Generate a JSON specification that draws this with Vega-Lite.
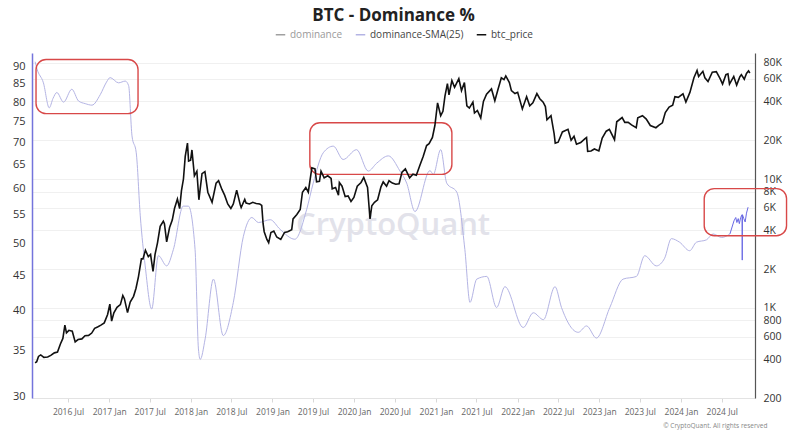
{
  "$schema": "https://vega.github.io/schema/vega-lite/v6.json",
  "width": 723,
  "height": 345,
  "autosize": "none",
  "padding": {"left": 32, "top": 53, "right": 45, "bottom": 39},
  "background": "white",
  "title": {"text": "BTC - Dominance %", "fontSize": 17, "fontWeight": "bold", "font": "Open Sans", "color": "#222", "anchor": "middle", "frame": "group", "offset": 4},
  "datasets": {
    "wm": [{"date": "2020-06-23", "val": 52.9, "label": "CryptoQuant"}],
    "boxes": [
      {"x1": "2016-02-09", "x2": "2017-05-10", "y1": 92.2, "y2": 77.0},
      {"x1": "2019-06-17", "x2": "2021-03-13", "y1": 74.7, "y2": 62.9},
      {"x1": "2024-04-14", "x2": "2025-04-17", "y1": 60.0, "y2": 51.3}
    ],
    "sma": [
      {"date": "2016-02-05", "sma": 91.5}, {"date": "2016-02-13", "sma": 89.4}, {"date": "2016-03-13", "sma": 85.3},
      {"date": "2016-04-08", "sma": 78.5}, {"date": "2016-04-25", "sma": 81.0}, {"date": "2016-05-12", "sma": 82.6},
      {"date": "2016-06-11", "sma": 80.0}, {"date": "2016-07-18", "sma": 83.5}, {"date": "2016-08-17", "sma": 80.3},
      {"date": "2016-09-16", "sma": 79.6}, {"date": "2016-10-16", "sma": 79.2}, {"date": "2016-11-22", "sma": 82.0},
      {"date": "2016-12-20", "sma": 85.5}, {"date": "2017-01-05", "sma": 86.8}, {"date": "2017-02-12", "sma": 85.3},
      {"date": "2017-03-14", "sma": 85.8}, {"date": "2017-03-29", "sma": 84.5}, {"date": "2017-04-13", "sma": 71.5},
      {"date": "2017-05-02", "sma": 67.6}, {"date": "2017-05-20", "sma": 54.8}, {"date": "2017-06-11", "sma": 46.4},
      {"date": "2017-07-10", "sma": 40.2}, {"date": "2017-08-09", "sma": 48.0}, {"date": "2017-09-15", "sma": 46.4},
      {"date": "2017-10-15", "sma": 49.0}, {"date": "2017-11-28", "sma": 56.6}, {"date": "2017-12-21", "sma": 56.6},
      {"date": "2018-01-20", "sma": 49.0}, {"date": "2018-02-04", "sma": 35.2}, {"date": "2018-02-12", "sma": 34.0},
      {"date": "2018-03-06", "sma": 36.4}, {"date": "2018-04-12", "sma": 44.4}, {"date": "2018-05-26", "sma": 36.8},
      {"date": "2018-07-10", "sma": 41.1}, {"date": "2018-08-24", "sma": 51.2}, {"date": "2018-10-01", "sma": 54.5},
      {"date": "2018-10-30", "sma": 53.6}, {"date": "2018-12-22", "sma": 54.1}, {"date": "2019-02-04", "sma": 52.4},
      {"date": "2019-04-11", "sma": 50.7}, {"date": "2019-06-03", "sma": 56.0}, {"date": "2019-07-02", "sma": 61.1},
      {"date": "2019-08-16", "sma": 67.6}, {"date": "2019-09-30", "sma": 69.1}, {"date": "2019-11-13", "sma": 66.1},
      {"date": "2020-01-12", "sma": 68.3}, {"date": "2020-03-04", "sma": 63.6}, {"date": "2020-04-11", "sma": 65.3},
      {"date": "2020-06-02", "sma": 66.9}, {"date": "2020-07-24", "sma": 63.6}, {"date": "2020-08-23", "sma": 61.1},
      {"date": "2020-09-29", "sma": 55.6}, {"date": "2020-12-05", "sma": 63.7}, {"date": "2020-12-20", "sma": 62.9},
      {"date": "2021-01-22", "sma": 68.3}, {"date": "2021-02-18", "sma": 61.1}, {"date": "2021-04-04", "sma": 59.3},
      {"date": "2021-05-10", "sma": 49.0}, {"date": "2021-06-02", "sma": 41.1}, {"date": "2021-07-02", "sma": 44.4},
      {"date": "2021-08-16", "sma": 44.8}, {"date": "2021-09-29", "sma": 40.4}, {"date": "2021-11-05", "sma": 43.3},
      {"date": "2022-01-26", "sma": 37.8}, {"date": "2022-03-12", "sma": 39.7}, {"date": "2022-04-26", "sma": 38.8},
      {"date": "2022-06-17", "sma": 43.3}, {"date": "2022-07-16", "sma": 40.4}, {"date": "2022-09-29", "sma": 37.2},
      {"date": "2022-11-05", "sma": 38.0}, {"date": "2022-12-19", "sma": 36.5}, {"date": "2023-02-17", "sma": 40.4},
      {"date": "2023-04-17", "sma": 44.4}, {"date": "2023-06-16", "sma": 44.8}, {"date": "2023-07-23", "sma": 48.0},
      {"date": "2023-09-13", "sma": 46.4}, {"date": "2023-10-20", "sma": 47.6}, {"date": "2023-11-19", "sma": 50.8},
      {"date": "2023-12-26", "sma": 50.2}, {"date": "2024-02-09", "sma": 48.8}, {"date": "2024-03-10", "sma": 50.2},
      {"date": "2024-04-24", "sma": 50.6}, {"date": "2024-05-24", "sma": 51.6}, {"date": "2024-07-01", "sma": 51.0},
      {"date": "2024-08-07", "sma": 51.6}
    ],
    "recent": [
      {"date": "2024-08-07", "sma": 51.6}, {"date": "2024-08-25", "sma": 53.9}, {"date": "2024-09-02", "sma": 54.5},
      {"date": "2024-09-07", "sma": 53.6}, {"date": "2024-09-13", "sma": 54.3}, {"date": "2024-09-18", "sma": 53.4},
      {"date": "2024-09-24", "sma": 54.5}, {"date": "2024-09-30", "sma": 55.0}, {"date": "2024-10-01", "sma": 47.3},
      {"date": "2024-10-02", "sma": 55.0}, {"date": "2024-10-08", "sma": 54.3}, {"date": "2024-10-14", "sma": 53.7},
      {"date": "2024-10-20", "sma": 55.3}, {"date": "2024-10-27", "sma": 56.4}
    ],
    "price": [
      {"date": "2016-02-05", "btc_price": 375}, {"date": "2016-02-12", "btc_price": 382}, {"date": "2016-02-20", "btc_price": 420},
      {"date": "2016-03-01", "btc_price": 432}, {"date": "2016-03-15", "btc_price": 413}, {"date": "2016-04-01", "btc_price": 416},
      {"date": "2016-04-15", "btc_price": 428}, {"date": "2016-05-01", "btc_price": 448}, {"date": "2016-05-15", "btc_price": 455},
      {"date": "2016-05-28", "btc_price": 525}, {"date": "2016-06-08", "btc_price": 580}, {"date": "2016-06-17", "btc_price": 735},
      {"date": "2016-06-24", "btc_price": 640}, {"date": "2016-07-05", "btc_price": 670}, {"date": "2016-07-20", "btc_price": 660},
      {"date": "2016-08-02", "btc_price": 545}, {"date": "2016-08-15", "btc_price": 568}, {"date": "2016-09-01", "btc_price": 575},
      {"date": "2016-09-15", "btc_price": 608}, {"date": "2016-10-01", "btc_price": 612}, {"date": "2016-10-15", "btc_price": 638},
      {"date": "2016-10-28", "btc_price": 695}, {"date": "2016-11-10", "btc_price": 712}, {"date": "2016-11-25", "btc_price": 735},
      {"date": "2016-12-10", "btc_price": 765}, {"date": "2016-12-25", "btc_price": 890}, {"date": "2017-01-04", "btc_price": 1070},
      {"date": "2017-01-12", "btc_price": 790}, {"date": "2017-01-22", "btc_price": 915}, {"date": "2017-02-05", "btc_price": 1010},
      {"date": "2017-02-20", "btc_price": 1060}, {"date": "2017-03-03", "btc_price": 1250}, {"date": "2017-03-10", "btc_price": 1180},
      {"date": "2017-03-24", "btc_price": 920}, {"date": "2017-04-05", "btc_price": 1110}, {"date": "2017-04-20", "btc_price": 1230},
      {"date": "2017-05-01", "btc_price": 1420}, {"date": "2017-05-12", "btc_price": 1750}, {"date": "2017-05-25", "btc_price": 2400},
      {"date": "2017-06-01", "btc_price": 2400}, {"date": "2017-06-12", "btc_price": 2800}, {"date": "2017-06-25", "btc_price": 2500},
      {"date": "2017-07-05", "btc_price": 2600}, {"date": "2017-07-16", "btc_price": 1920}, {"date": "2017-07-25", "btc_price": 2600},
      {"date": "2017-08-05", "btc_price": 3200}, {"date": "2017-08-17", "btc_price": 4300}, {"date": "2017-08-31", "btc_price": 4700},
      {"date": "2017-09-05", "btc_price": 4500}, {"date": "2017-09-15", "btc_price": 3250}, {"date": "2017-09-28", "btc_price": 4200},
      {"date": "2017-10-10", "btc_price": 4800}, {"date": "2017-10-20", "btc_price": 5900}, {"date": "2017-11-02", "btc_price": 7000},
      {"date": "2017-11-12", "btc_price": 5900}, {"date": "2017-11-20", "btc_price": 8100}, {"date": "2017-11-29", "btc_price": 10000},
      {"date": "2017-12-07", "btc_price": 15000}, {"date": "2017-12-17", "btc_price": 19000}, {"date": "2017-12-22", "btc_price": 13800},
      {"date": "2017-12-31", "btc_price": 14000}, {"date": "2018-01-06", "btc_price": 16800}, {"date": "2018-01-17", "btc_price": 10600},
      {"date": "2018-01-28", "btc_price": 11500}, {"date": "2018-02-06", "btc_price": 6900}, {"date": "2018-02-20", "btc_price": 11000},
      {"date": "2018-03-05", "btc_price": 11400}, {"date": "2018-03-18", "btc_price": 7900}, {"date": "2018-04-06", "btc_price": 6600},
      {"date": "2018-04-24", "btc_price": 9300}, {"date": "2018-05-05", "btc_price": 9700}, {"date": "2018-05-20", "btc_price": 8300},
      {"date": "2018-06-01", "btc_price": 7500}, {"date": "2018-06-15", "btc_price": 6400}, {"date": "2018-06-29", "btc_price": 5900},
      {"date": "2018-07-10", "btc_price": 6400}, {"date": "2018-07-25", "btc_price": 8200}, {"date": "2018-08-10", "btc_price": 6300},
      {"date": "2018-08-14", "btc_price": 6000}, {"date": "2018-08-30", "btc_price": 6950}, {"date": "2018-09-05", "btc_price": 6500},
      {"date": "2018-09-20", "btc_price": 6400}, {"date": "2018-10-05", "btc_price": 6600}, {"date": "2018-10-20", "btc_price": 6450},
      {"date": "2018-11-05", "btc_price": 6400}, {"date": "2018-11-14", "btc_price": 6250}, {"date": "2018-11-20", "btc_price": 4500},
      {"date": "2018-11-25", "btc_price": 3900}, {"date": "2018-12-07", "btc_price": 3400}, {"date": "2018-12-15", "btc_price": 3200},
      {"date": "2018-12-25", "btc_price": 3850}, {"date": "2019-01-07", "btc_price": 3950}, {"date": "2019-01-20", "btc_price": 3550},
      {"date": "2019-02-07", "btc_price": 3400}, {"date": "2019-02-24", "btc_price": 3850}, {"date": "2019-03-10", "btc_price": 3900},
      {"date": "2019-03-28", "btc_price": 4050}, {"date": "2019-04-03", "btc_price": 4900}, {"date": "2019-04-20", "btc_price": 5300},
      {"date": "2019-05-05", "btc_price": 5800}, {"date": "2019-05-15", "btc_price": 7900}, {"date": "2019-05-30", "btc_price": 8600},
      {"date": "2019-06-10", "btc_price": 7900}, {"date": "2019-06-26", "btc_price": 12200}, {"date": "2019-07-10", "btc_price": 12000},
      {"date": "2019-07-17", "btc_price": 9500}, {"date": "2019-07-30", "btc_price": 9600}, {"date": "2019-08-06", "btc_price": 11500},
      {"date": "2019-08-20", "btc_price": 10200}, {"date": "2019-09-05", "btc_price": 10600}, {"date": "2019-09-20", "btc_price": 10100},
      {"date": "2019-09-25", "btc_price": 8400}, {"date": "2019-10-10", "btc_price": 8600}, {"date": "2019-10-23", "btc_price": 7500},
      {"date": "2019-10-27", "btc_price": 9400}, {"date": "2019-11-08", "btc_price": 8800}, {"date": "2019-11-22", "btc_price": 7300},
      {"date": "2019-12-05", "btc_price": 7400}, {"date": "2019-12-18", "btc_price": 6700}, {"date": "2019-12-31", "btc_price": 7200},
      {"date": "2020-01-15", "btc_price": 8800}, {"date": "2020-02-01", "btc_price": 9400}, {"date": "2020-02-13", "btc_price": 10300},
      {"date": "2020-03-01", "btc_price": 8600}, {"date": "2020-03-12", "btc_price": 4900}, {"date": "2020-03-20", "btc_price": 6200},
      {"date": "2020-04-01", "btc_price": 6600}, {"date": "2020-04-15", "btc_price": 6900}, {"date": "2020-04-30", "btc_price": 8700},
      {"date": "2020-05-10", "btc_price": 9500}, {"date": "2020-05-25", "btc_price": 8800}, {"date": "2020-06-05", "btc_price": 9700},
      {"date": "2020-06-20", "btc_price": 9300}, {"date": "2020-07-05", "btc_price": 9100}, {"date": "2020-07-20", "btc_price": 9200},
      {"date": "2020-08-02", "btc_price": 11300}, {"date": "2020-08-17", "btc_price": 12000}, {"date": "2020-09-05", "btc_price": 10200},
      {"date": "2020-09-20", "btc_price": 10900}, {"date": "2020-10-05", "btc_price": 10700}, {"date": "2020-10-21", "btc_price": 12800},
      {"date": "2020-11-05", "btc_price": 15000}, {"date": "2020-11-20", "btc_price": 18200}, {"date": "2020-12-01", "btc_price": 18800},
      {"date": "2020-12-16", "btc_price": 21000}, {"date": "2020-12-27", "btc_price": 26000}, {"date": "2021-01-08", "btc_price": 39000},
      {"date": "2021-01-22", "btc_price": 31000}, {"date": "2021-02-01", "btc_price": 33500}, {"date": "2021-02-10", "btc_price": 44000},
      {"date": "2021-02-21", "btc_price": 55000}, {"date": "2021-02-28", "btc_price": 45000}, {"date": "2021-03-13", "btc_price": 58000},
      {"date": "2021-03-25", "btc_price": 51500}, {"date": "2021-04-13", "btc_price": 60000}, {"date": "2021-04-25", "btc_price": 48500},
      {"date": "2021-05-08", "btc_price": 56000}, {"date": "2021-05-19", "btc_price": 37000}, {"date": "2021-05-30", "btc_price": 35500},
      {"date": "2021-06-15", "btc_price": 39500}, {"date": "2021-06-22", "btc_price": 32500}, {"date": "2021-07-05", "btc_price": 34000},
      {"date": "2021-07-20", "btc_price": 29800}, {"date": "2021-08-01", "btc_price": 40000}, {"date": "2021-08-15", "btc_price": 45500},
      {"date": "2021-09-06", "btc_price": 50000}, {"date": "2021-09-21", "btc_price": 40500}, {"date": "2021-10-05", "btc_price": 49500},
      {"date": "2021-10-20", "btc_price": 61000}, {"date": "2021-11-01", "btc_price": 59000}, {"date": "2021-11-09", "btc_price": 63000},
      {"date": "2021-11-25", "btc_price": 56000}, {"date": "2021-12-04", "btc_price": 48500}, {"date": "2021-12-20", "btc_price": 46000},
      {"date": "2022-01-01", "btc_price": 47000}, {"date": "2022-01-22", "btc_price": 35000}, {"date": "2022-02-10", "btc_price": 43500},
      {"date": "2022-02-24", "btc_price": 37000}, {"date": "2022-03-10", "btc_price": 39000}, {"date": "2022-03-28", "btc_price": 46000},
      {"date": "2022-04-10", "btc_price": 42000}, {"date": "2022-04-25", "btc_price": 39500}, {"date": "2022-05-05", "btc_price": 36500},
      {"date": "2022-05-12", "btc_price": 28800}, {"date": "2022-05-30", "btc_price": 31000}, {"date": "2022-06-13", "btc_price": 22500},
      {"date": "2022-06-18", "btc_price": 19000}, {"date": "2022-07-01", "btc_price": 19300}, {"date": "2022-07-20", "btc_price": 23200},
      {"date": "2022-08-14", "btc_price": 24300}, {"date": "2022-08-28", "btc_price": 20000}, {"date": "2022-09-10", "btc_price": 21500},
      {"date": "2022-09-21", "btc_price": 18600}, {"date": "2022-10-10", "btc_price": 19200}, {"date": "2022-10-28", "btc_price": 20500},
      {"date": "2022-11-05", "btc_price": 21000}, {"date": "2022-11-10", "btc_price": 16400}, {"date": "2022-11-25", "btc_price": 16500},
      {"date": "2022-12-10", "btc_price": 17100}, {"date": "2022-12-30", "btc_price": 16500}, {"date": "2023-01-14", "btc_price": 20800},
      {"date": "2023-02-01", "btc_price": 23500}, {"date": "2023-02-15", "btc_price": 24300}, {"date": "2023-03-10", "btc_price": 20200},
      {"date": "2023-03-20", "btc_price": 27800}, {"date": "2023-04-13", "btc_price": 30000}, {"date": "2023-04-25", "btc_price": 27500},
      {"date": "2023-05-10", "btc_price": 27500}, {"date": "2023-05-25", "btc_price": 26300}, {"date": "2023-06-15", "btc_price": 25000},
      {"date": "2023-06-22", "btc_price": 29800}, {"date": "2023-07-13", "btc_price": 31000}, {"date": "2023-07-30", "btc_price": 29200},
      {"date": "2023-08-17", "btc_price": 26000}, {"date": "2023-09-11", "btc_price": 25000}, {"date": "2023-09-25", "btc_price": 26200},
      {"date": "2023-10-10", "btc_price": 27300}, {"date": "2023-10-23", "btc_price": 32800}, {"date": "2023-11-09", "btc_price": 36200},
      {"date": "2023-11-25", "btc_price": 37400}, {"date": "2023-12-05", "btc_price": 43500}, {"date": "2023-12-20", "btc_price": 43000},
      {"date": "2024-01-10", "btc_price": 45800}, {"date": "2024-01-23", "btc_price": 39500}, {"date": "2024-02-10", "btc_price": 47000},
      {"date": "2024-02-28", "btc_price": 61000}, {"date": "2024-03-13", "btc_price": 69500}, {"date": "2024-03-20", "btc_price": 62500},
      {"date": "2024-04-08", "btc_price": 68500}, {"date": "2024-04-17", "btc_price": 61000}, {"date": "2024-05-01", "btc_price": 57000},
      {"date": "2024-05-20", "btc_price": 67500}, {"date": "2024-06-07", "btc_price": 68000}, {"date": "2024-06-24", "btc_price": 60000},
      {"date": "2024-07-05", "btc_price": 54500}, {"date": "2024-07-20", "btc_price": 64500}, {"date": "2024-07-29", "btc_price": 65500},
      {"date": "2024-08-05", "btc_price": 54500}, {"date": "2024-08-24", "btc_price": 62500}, {"date": "2024-09-06", "btc_price": 53500},
      {"date": "2024-09-20", "btc_price": 62000}, {"date": "2024-09-27", "btc_price": 64500}, {"date": "2024-10-10", "btc_price": 59500},
      {"date": "2024-10-20", "btc_price": 66000}, {"date": "2024-10-29", "btc_price": 69000}, {"date": "2024-11-04", "btc_price": 66500}
    ]
  },
  "layer": [
    {
      "layer": [
        {
          "data": {"name": "wm"},
          "mark": {"type": "text", "fontSize": 31, "fontWeight": 600, "font": "Open Sans", "color": "#e2e2ea", "align": "center", "baseline": "middle"},
          "encoding": {
            "x": {"field": "date", "type": "temporal", "scale": {"type": "utc", "domain": [{"year": 2016, "month": 1, "date": 22, "utc": true}, {"year": 2024, "month": 11, "date": 27, "utc": true}]}},
            "y": {"field": "val", "type": "quantitative", "scale": {"type": "log", "domain": [29.9, 94.2], "nice": false}},
            "text": {"field": "label"}
          }
        },
        {
          "data": {"name": "sma"},
          "mark": {"type": "line", "strokeWidth": 1, "interpolate": "monotone"},
          "encoding": {
            "x": {"field": "date", "type": "temporal", "scale": {"type": "utc", "domain": [{"year": 2016, "month": 1, "date": 22, "utc": true}, {"year": 2024, "month": 11, "date": 27, "utc": true}]}},
            "y": {"field": "sma", "type": "quantitative", "scale": {"type": "log", "domain": [29.9, 94.2], "nice": false},
              "axis": {"orient": "left", "title": null, "values": [30, 35, 40, 45, 50, 55, 60, 65, 70, 75, 80, 85, 90], "grid": false, "ticks": false, "domainColor": "#7474dc", "domainWidth": 1.5, "labelPadding": 7, "labelFontSize": 11, "labelFont": "Open Sans", "labelColor": "#333", "labelOverlap": false}},
            "color": {"datum": "dominance-SMA(25)", "scale": {"domain": ["dominance", "dominance-SMA(25)", "btc_price"], "range": ["#a0a0a0", "#b4b4e4", "#111111"]}}
          }
        },
        {
          "data": {"name": "recent"},
          "mark": {"type": "line", "strokeWidth": 1, "color": "#6a6ae4"},
          "encoding": {
            "x": {"field": "date", "type": "temporal"},
            "y": {"field": "sma", "type": "quantitative"}
          }
        },
        {
          "data": {"name": "boxes"},
          "mark": {"type": "rect", "filled": false, "color": "#d84848", "strokeWidth": 1.4, "cornerRadius": 10},
          "encoding": {
            "x": {"field": "x1", "type": "temporal"},
            "x2": {"field": "x2"},
            "y": {"field": "y1", "type": "quantitative"},
            "y2": {"field": "y2"}
          }
        }
      ]
    },
    {
      "data": {"name": "price"},
      "mark": {"type": "line", "strokeWidth": 1.6},
      "encoding": {
        "x": {"field": "date", "type": "temporal", "scale": {"type": "utc", "domain": [{"year": 2016, "month": 1, "date": 22, "utc": true}, {"year": 2024, "month": 11, "date": 27, "utc": true}]},
          "axis": {"title": "© CryptoQuant. All rights reserved", "format": "%Y %b", "grid": false,
            "values": [{"year": 2016, "month": 7, "date": 1, "utc": true}, {"year": 2017, "month": 1, "date": 1, "utc": true}, {"year": 2017, "month": 7, "date": 1, "utc": true}, {"year": 2018, "month": 1, "date": 1, "utc": true}, {"year": 2018, "month": 7, "date": 1, "utc": true}, {"year": 2019, "month": 1, "date": 1, "utc": true}, {"year": 2019, "month": 7, "date": 1, "utc": true}, {"year": 2020, "month": 1, "date": 1, "utc": true}, {"year": 2020, "month": 7, "date": 1, "utc": true}, {"year": 2021, "month": 1, "date": 1, "utc": true}, {"year": 2021, "month": 7, "date": 1, "utc": true}, {"year": 2022, "month": 1, "date": 1, "utc": true}, {"year": 2022, "month": 7, "date": 1, "utc": true}, {"year": 2023, "month": 1, "date": 1, "utc": true}, {"year": 2023, "month": 7, "date": 1, "utc": true}, {"year": 2024, "month": 1, "date": 1, "utc": true}, {"year": 2024, "month": 7, "date": 1, "utc": true}],
            "labelFontSize": 8.5, "labelFont": "Open Sans", "labelColor": "#666", "tickColor": "#d8d8d8", "tickSize": 4, "domainColor": "#e3e3e3", "labelPadding": 5, "labelOverlap": false,
            "titleFontSize": 6.5, "titleFont": "Open Sans", "titleFontWeight": "normal", "titleColor": "#888", "titleX": 735, "titleY": 27, "titleAlign": "right", "titleBaseline": "middle"}},
        "y": {"field": "btc_price", "type": "quantitative", "scale": {"type": "log", "domain": [200, 95000], "nice": false},
          "axis": {"orient": "right", "title": null, "values": [200, 400, 600, 800, 1000, 2000, 4000, 6000, 8000, 10000, 20000, 40000, 60000, 80000],
            "labelExpr": "datum.value >= 1000 ? (datum.value / 1000) + 'K' : '' + datum.value",
            "grid": true, "gridColor": "#f0f0f0", "ticks": false, "domainColor": "#555", "domainWidth": 1.2, "labelPadding": 8, "labelFontSize": 10.5, "labelFont": "Open Sans", "labelColor": "#333", "labelOverlap": false}},
        "color": {"datum": "btc_price", "scale": {"domain": ["dominance", "dominance-SMA(25)", "btc_price"], "range": ["#a0a0a0", "#b4b4e4", "#111111"]},
          "legend": {"orient": "none", "legendX": 243, "legendY": -24, "direction": "horizontal", "title": null, "symbolType": "stroke", "symbolStrokeWidth": 1.5, "symbolSize": 90, "labelFontSize": 10, "labelFont": "Open Sans", "labelColor": "#444", "columnPadding": 9, "labelOffset": 4,
            "encode": {"labels": {"update": {"fill": {"signal": "datum.label === 'dominance' ? '#9a9a9a' : '#444'"}}}}}}
      }
    }
  ],
  "resolve": {"scale": {"y": "independent"}},
  "config": {"view": {"stroke": null}, "font": "Open Sans"}
}
